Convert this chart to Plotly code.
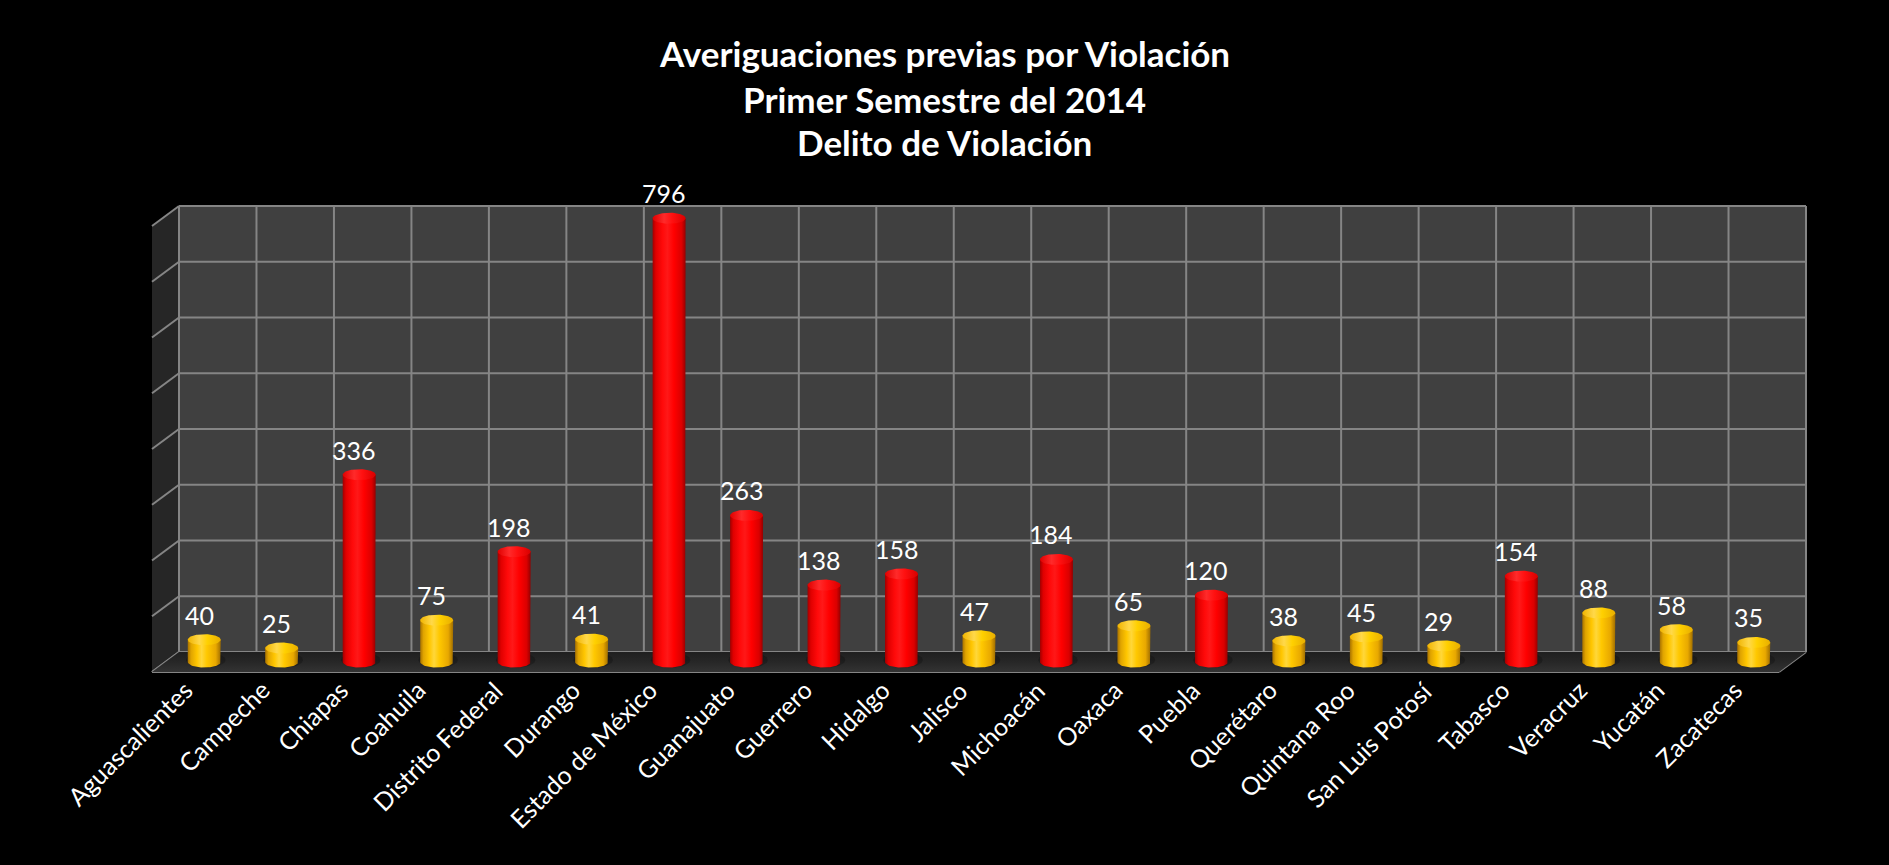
import plotly.graph_objects as go
import numpy as np

# ---- data ----
estados = [
    "Aguascalientes", "Campeche", "Chiapas", "Coahuila", "Distrito Federal",
    "Durango", "Estado de México", "Guanajuato", "Guerrero", "Hidalgo",
    "Jalisco", "Michoacán", "Oaxaca", "Puebla", "Querétaro", "Quintana Roo",
    "San Luis Potosí", "Tabasco", "Veracruz", "Yucatán", "Zacatecas",
]
averiguaciones = [40, 25, 336, 75, 198, 41, 796, 263, 138, 158, 47, 184,
                  65, 120, 38, 45, 29, 154, 88, 58, 35]
umbral_rojo = 100          # bars above this value are drawn red
eje_max = 800
eje_paso = 100

titulo = ["Averiguaciones previas por Violación",
          "Primer Semestre del 2014",
          "Delito de Violación"]

# ---- figure geometry (pixels) ----
W, H = 1889, 865
WALL_X0, WALL_X1 = 179, 1806     # back wall, left / right
WALL_Y0, WALL_YTOP = 652, 206    # value 0 and eje_max on the back wall
DEPTH = (-27, 20)                # back -> front offset of the 3D box
CYL_R_PX = 16.5                  # cylinder radius
CYL_RY_PX = 5.5                  # vertical half-axis of the elliptic caps

n = len(estados)
ux = (WALL_X1 - WALL_X0) / n
uy = (WALL_Y0 - WALL_YTOP) / eje_max
x_rng = [-0.5 - WALL_X0 / ux, -0.5 + (W - WALL_X0) / ux]
y_rng = [-(H - WALL_Y0) / uy, WALL_Y0 / uy]
ddx, ddy = DEPTH[0] / ux, -DEPTH[1] / uy
xl, xr = -0.5, n - 0.5

GRID = "#858585"
fig = go.Figure()
shapes = []


def poly(pts, fill):
    d = "M " + " L ".join(f"{x},{y}" for x, y in pts) + " Z"
    shapes.append(dict(type="path", path=d, xref="x", yref="y",
                       fillcolor=fill, line=dict(width=0), layer="below"))


def seg(x0, y0, x1, y1):
    shapes.append(dict(type="line", x0=x0, y0=y0, x1=x1, y1=y1, xref="x",
                       yref="y", line=dict(color=GRID, width=2), layer="below"))


# walls
poly([(xl, 0), (xl, eje_max), (xr, eje_max), (xr, 0)], "#404040")
poly([(xl + ddx, ddy), (xl + ddx, eje_max + ddy), (xl, eje_max), (xl, 0)],
     "#262626")

# floor with a soft back-to-front gradient
fig.add_trace(go.Scatter(
    x=[xl, xr, xr + ddx, xl + ddx, xl], y=[0, 0, ddy, ddy, 0],
    mode="lines", line=dict(width=0), fill="toself",
    fillgradient=dict(type="vertical",
                      colorscale=[[0, "#333333"], [0.5, "#272727"], [1, "#1f1f1f"]]),
    hoverinfo="skip", showlegend=False))

# gridlines: back wall + side wall
for v in range(0, eje_max + eje_paso, eje_paso):
    seg(xl, v, xr, v)
    seg(xl + ddx, v + ddy, xl, v)
for k in range(n + 1):
    xb = xl + k
    seg(xb, 0, xb, eje_max)
    seg(xb, 0, xb + ddx, ddy)
seg(xl + ddx, ddy, xr + ddx, ddy)

# ---- cylinders ----
oro_cuerpo = [[0, "#A87200"], [0.1, "#E0A400"], [0.28, "#FFC600"],
              [0.42, "#FFD73A"], [0.58, "#FFC800"], [0.85, "#E8A800"],
              [1, "#A06E00"]]
oro_tapa = [[0, "#F0B400"], [0.35, "#FFD84A"], [0.6, "#FFD000"], [1, "#E8AE00"]]
rojo_cuerpo = [[0, "#A00000"], [0.1, "#E00000"], [0.3, "#FF0A0A"],
               [0.45, "#FF1818"], [0.65, "#FF0000"], [0.88, "#DA0000"],
               [1, "#940000"]]
rojo_tapa = [[0, "#E00000"], [0.35, "#FF2A2A"], [0.6, "#FF1010"], [1, "#D80000"]]

r = CYL_R_PX / ux
ry = CYL_RY_PX / uy
t = np.linspace(0, np.pi, 40)
ta = np.linspace(0, 2 * np.pi, 80)

for i, (nombre, v) in enumerate(zip(estados, averiguaciones)):
    cx = i + ddx / 2
    base = ddy / 2
    top = v + ddy / 2
    rojo = v > umbral_rojo
    cs_body = rojo_cuerpo if rojo else oro_cuerpo
    cs_cap = rojo_tapa if rojo else oro_tapa

    # soft shadow on the floor
    sx = cx + 0.02 + (r * 1.2) * np.cos(ta)
    sy = base + 2 / uy + ry * 1.4 * np.sin(ta)
    fig.add_trace(go.Scatter(x=sx, y=sy, mode="lines", line=dict(width=0),
                             fill="toself", fillcolor="rgba(0,0,0,0.22)",
                             hoverinfo="skip", showlegend=False))

    bx = np.concatenate([[cx - r, cx - r, cx + r], cx + r * np.cos(t)])
    by = np.concatenate([[base, top, top], base - ry * np.sin(t)])
    fig.add_trace(go.Scatter(x=bx, y=by, mode="lines", line=dict(width=0),
                             fill="toself",
                             fillgradient=dict(type="horizontal", colorscale=cs_body),
                             hoverinfo="skip", showlegend=False))
    fig.add_trace(go.Scatter(x=cx + r * np.cos(ta), y=top + ry * np.sin(ta),
                             mode="lines", line=dict(width=0), fill="toself",
                             fillgradient=dict(type="horizontal", colorscale=cs_cap),
                             hoverinfo="skip", showlegend=False))

    # value label
    fig.add_annotation(x=cx, y=top, xref="x", yref="y", text=str(v),
                       showarrow=False, xshift=-5, yshift=25,
                       font=dict(family="Lato", size=25, color="white"))
    # category label
    fig.add_annotation(x=i + ddx, y=ddy, xref="x", yref="y", text=nombre,
                       showarrow=False, textangle=-45, xanchor="right",
                       yanchor="top", xshift=10, yshift=0,
                       font=dict(family="Lato", size=25, color="white"))

# ---- title ----
for linea, ypx in zip(titulo, [53, 99, 142]):
    fig.add_annotation(x=0.5, y=1 - ypx / H, xref="paper", yref="paper",
                       text=f"<b>{linea}</b>", showarrow=False,
                       xanchor="center", yanchor="middle",
                       font=dict(family="Lato", size=35, color="white"))

fig.update_layout(
    width=W, height=H, autosize=False,
    margin=dict(l=0, r=0, t=0, b=0),
    paper_bgcolor="black", plot_bgcolor="black",
    showlegend=False, shapes=shapes,
    xaxis=dict(range=x_rng, visible=False, fixedrange=True),
    yaxis=dict(range=y_rng, visible=False, fixedrange=True),
)

fig.write_html("out.html")
